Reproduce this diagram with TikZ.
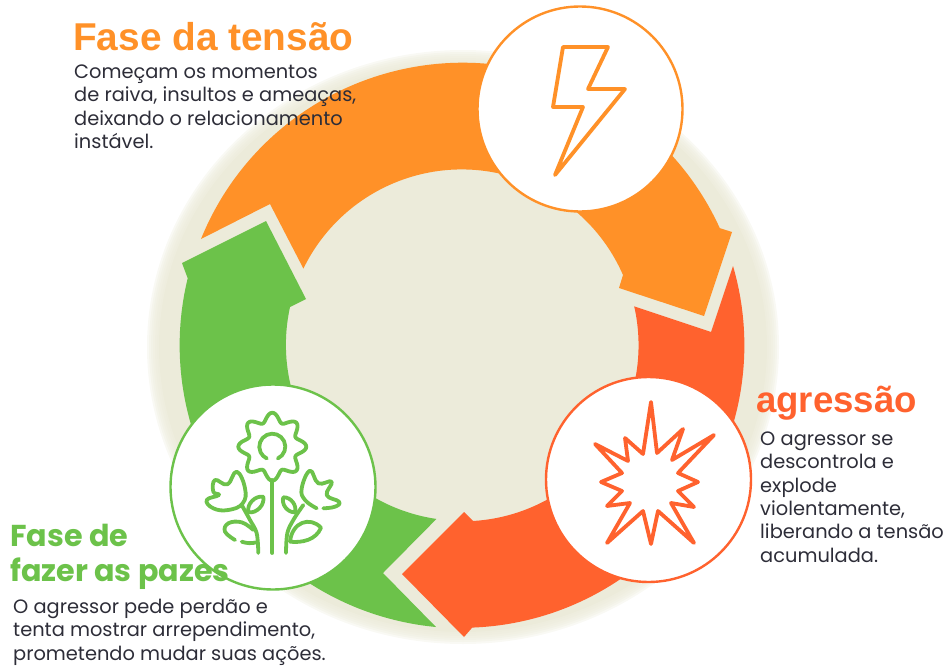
\documentclass[tikz,border=0pt]{standalone}
\usepackage{fontspec}
\setmainfont{Poppins}
\newfontfamily\headfont{Liberation Sans}
\usetikzlibrary{positioning}
\definecolor{tensioncol}{HTML}{FF9128}
\definecolor{attackcol}{HTML}{FF622E}
\definecolor{peacecol}{HTML}{6CC24A}
\definecolor{discol}{HTML}{ECEBDA}
\definecolor{bodycol}{HTML}{2D2D38}
\tikzset{
	badge/.style={circle,fill=white,draw=#1,line width=2.4pt,minimum size=205pt,inner sep=0pt},
	iconline/.style={draw=#1,line width=3.8pt,line cap=round,line join=round},
	headtext/.style={inner sep=0pt,anchor=north west,align=left,text=#1},
	bodytext/.style={inner sep=0pt,anchor=north west,align=left,text=bodycol,font=\fontsize{19.4}{23.4}\selectfont}
}
\begin{document}
\begin{tikzpicture}[x=1pt,y=1pt]
	\useasboundingbox (0,0) rectangle (944,-666);

	% Disc behind the ring, soft edge
	\coordinate (ringc) at (462.5,-345);
	\foreach \d in {0,2,...,10}
		\fill[discol,opacity=.3] (463,-347) ellipse[x radius=306pt+\d pt,y radius=287pt+\d pt];
	\fill[discol] (463,-347) ellipse[x radius=304pt,y radius=285pt];

	% Orange arrow
	\fill[tensioncol] (201,-239) arc[start angle=157.9,end angle=24.5,radius=282.5pt]
		-- (732,-232) -- (704,-316) -- (619,-288) -- (623,-275)
		arc[start angle=23.6,end angle=154.1,radius=176pt] -- (270,-204) -- cycle;

	% Red arrow
	\fill[attackcol] (733,-266) arc[start angle=16.3,end angle=-87.9,radius=282.5pt]
		-- (464,-637) -- (402,-574) -- (464,-512) -- (473,-521)
		arc[start angle=-86.6,end angle=12.8,radius=176pt] -- (711,-332) -- cycle;

	% Green arrow
	\fill[peacecol] (436,-627) arc[start angle=264.6,end angle=166.3,radius=283pt]
		-- (182,-263) -- (266,-221) -- (306,-299) -- (290,-307)
		arc[start angle=167.6,end angle=261.7,radius=176pt] -- (383,-573) -- cycle;

	% Badges
	\node[badge=tensioncol] (tensionb) at (580,-109) {};
	\node[badge=attackcol] (attackb) at (648.5,-479.5) {};
	\node[badge=peacecol] (peaceb) at (273,-487) {};

	% Bolt
	\draw[iconline=tensioncol] (563,-47) -- (608,-47) -- (588,-89) -- (625,-89) -- (555,-175)
		-- (583,-107) -- (553,-107) -- cycle;

	% Burst
	\draw[iconline=attackcol] (651,-402) -- (657,-453) -- (683,-429) -- (672,-460) -- (714,-435)
		-- (678,-473) -- (698,-482) -- (678,-491) -- (694,-507) -- (671,-503) -- (694,-543)
		-- (658,-511) -- (651,-544) -- (643,-511) -- (607,-543) -- (630,-503) -- (607,-506)
		-- (622,-491) -- (601,-482) -- (622,-473) -- (595,-444) -- (628,-461) -- (625,-438)
		-- (643,-454) -- cycle;

	% Flower head and stem
	\coordinate (flowerc) at (272.3,-446.7);
	\draw[iconline=peacecol,shift={(272.3,-446.7)}] plot[domain=0:360,samples=121,smooth,variable=\t]
		({(29.5+4.5*cos(8*\t))*cos(\t)},{(29.5+4.5*cos(8*\t))*sin(\t)}) -- cycle;
	\draw[iconline=peacecol] (flowerc) ++(-65:13) arc[start angle=-65,end angle=245,radius=13pt];
	\draw[iconline=peacecol] (272.3,-480) -- (272.3,-553);

	% Left tulip
	\draw[iconline=peacecol] plot[smooth cycle,tension=.75] coordinates {(242.7,-503.3) (245,-488.3) (236.7,-471.7)
		(227.3,-484.3) (215,-480) (213.3,-491.7) (219,-495) (206.7,-500) (213.3,-508.3) (228.3,-510)};
	\draw[iconline=peacecol] plot[smooth,tension=.6] coordinates {(241.7,-505) (250,-520) (256.7,-533.3) (258.3,-553)};
	\draw[iconline=peacecol] plot[smooth,tension=.7] coordinates {(235,-540) (225,-531.7) (228.3,-523.3) (241.7,-522.3) (253.3,-530)};
	\draw[iconline=peacecol] (241.7,-541.7) to[bend right=15] (256.7,-542.3);
	\draw[iconline=peacecol] (248.3,-512.3) to[bend left=55] (263.3,-496.7) to[bend left=55] cycle;

	% Right tulip
	\draw[iconline=peacecol] plot[smooth,tension=.75] coordinates {(323.3,-508.3) (335,-506.7) (339,-501.7) (326.7,-495)
		(331.7,-481.7) (318.3,-483.3) (310,-470.7) (301.7,-488.3) (305,-500) (316.7,-508.3)};
	\draw[iconline=peacecol] plot[smooth,tension=.6] coordinates {(303.3,-505) (293.3,-520) (287.3,-533.3) (286,-553)};
	\draw[iconline=peacecol] (290,-541.7) .. controls (292,-522) and (310,-516) .. (321,-527.7)
		.. controls (316,-540) and (302,-543) .. (290,-541.7);
	\draw[iconline=peacecol] (295,-512.3) to[bend right=55] (283.3,-497.3) to[bend right=55] cycle;

	% Orange labels
	\node[headtext=tensioncol,font=\headfont\bfseries\fontsize{38.8}{40}\selectfont] (tensionh) at (73,-22) {Fase da tensão};
	\node[bodytext] (tensiont) at (74,-64.5) {Começam os momentos\\de raiva, insultos e ameaças,\\deixando o relacionamento\\instável.};

	% Red labels
	\node[headtext=attackcol,font=\headfont\bfseries\fontsize{36.6}{40}\selectfont] (attackh) at (756,-386) {agressão};
	\node[bodytext] (attackt) at (760,-431.5) {O agressor se\\descontrola e\\explode\\violentamente,\\liberando a tensão\\acumulada.};

	% Green labels
	\node[headtext=peacecol,font=\bfseries\fontsize{30.2}{35}\selectfont] (peaceh) at (10,-524) {Fase de\\fazer as pazes};
	\node[bodytext] (peacet) at (13,-599) {O agressor pede perdão e\\tenta mostrar arrependimento,\\prometendo mudar suas ações.};
\end{tikzpicture}
\end{document}
